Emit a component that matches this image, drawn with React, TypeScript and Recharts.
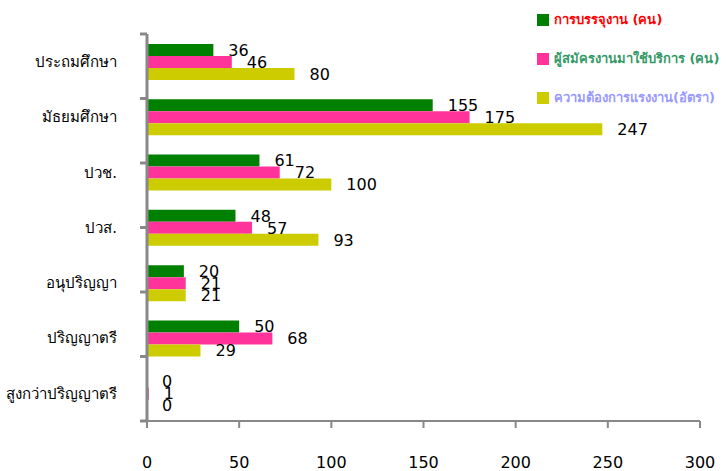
import { BarChart, Bar, XAxis, YAxis, LabelList, Cell } from "recharts";

const levels = [
  "ประถมศึกษา",
  "มัธยมศึกษา",
  "ปวช.",
  "ปวส.",
  "อนุปริญญา",
  "ปริญญาตรี",
  "สูงกว่าปริญญาตรี",
];
const placed = [36, 155, 61, 48, 20, 50, 0];
const applicants = [46, 175, 72, 57, 21, 68, 1];
const demand = [80, 247, 100, 93, 21, 29, 0];
const xTicks = [0, 50, 100, 150, 200, 250, 300];
const bandTicks = [0, 1, 2, 3, 4, 5, 6, 7];

const series = [
  { key: "placed", name: "การบรรจุงาน (คน)", color: "#008000", text: "#FF0000", values: placed },
  { key: "applicants", name: "ผู้สมัครงานมาใช้บริการ (คน)", color: "#FF3399", text: "#339966", values: applicants },
  { key: "demand", name: "ความต้องการแรงงาน(อัตรา)", color: "#CCCC00", text: "#9999FF", values: demand },
];

const data = levels.map((level, i) => ({
  level,
  placed: placed[i],
  applicants: applicants[i],
  demand: demand[i],
}));

const font = "Tahoma, 'DejaVu Sans', 'Noto Sans', sans-serif";

function LegendBox() {
  return (
    <div
      style={{
        position: "absolute",
        left: 537,
        top: 0,
        fontFamily: font,
        fontSize: 13,
        fontWeight: "bold",
        whiteSpace: "nowrap",
      }}
    >
      {series.map((s) => (
        <div key={s.key} style={{ display: "flex", alignItems: "center", height: 39 }}>
          <span style={{ width: 12, height: 12, background: s.color, marginRight: 5 }} />
          <span style={{ color: s.text }}>{s.name}</span>
        </div>
      ))}
    </div>
  );
}

export default function App() {
  return (
    <div style={{ position: "absolute", left: 0, top: 0, width: 728, height: 471, background: "#fff" }}>
      <BarChart
        width={728}
        height={471}
        data={data}
        layout="vertical"
        margin={{ top: 34, right: 28, bottom: 0, left: 0 }}
        barSize={12}
        barGap={0}
      >
        <XAxis
          type="number"
          domain={[0, 300]}
          ticks={xTicks}
          height={50}
          tickSize={7}
          tickMargin={29}
          stroke="#888"
          strokeWidth={2}
          tick={{ fill: "#000", fontSize: 16, fontFamily: font }}
        />
        {/* numeric axis only for the tick marks between categories */}
        <YAxis
          yAxisId="band"
          type="number"
          domain={[0, 7]}
          ticks={bandTicks}
          reversed
          width={1}
          tick={() => <g />}
          tickSize={7}
          stroke="#888"
          strokeWidth={3}
        />
        <YAxis
          yAxisId="cat"
          type="category"
          dataKey="level"
          width={146}
          axisLine={false}
          tickLine={false}
          tickMargin={23}
          tick={{ fill: "#000", fontSize: 15, fontFamily: font }}
        />
        {series.map((s) => (
          <Bar
            key={s.key}
            yAxisId="cat"
            dataKey={s.key}
            name={s.name}
            fill={s.color}
            minPointSize={0.01}
            isAnimationActive={false}
          >
            {s.values.map((v, i) => (
              <Cell key={i} fill={v === 0 ? "none" : s.color} />
            ))}
            <LabelList
              dataKey={s.key}
              position="right"
              offset={15}
              fill="#000"
              fontSize={16}
              fontFamily={font}
            />
          </Bar>
        ))}
      </BarChart>
      <LegendBox />
    </div>
  );
}
